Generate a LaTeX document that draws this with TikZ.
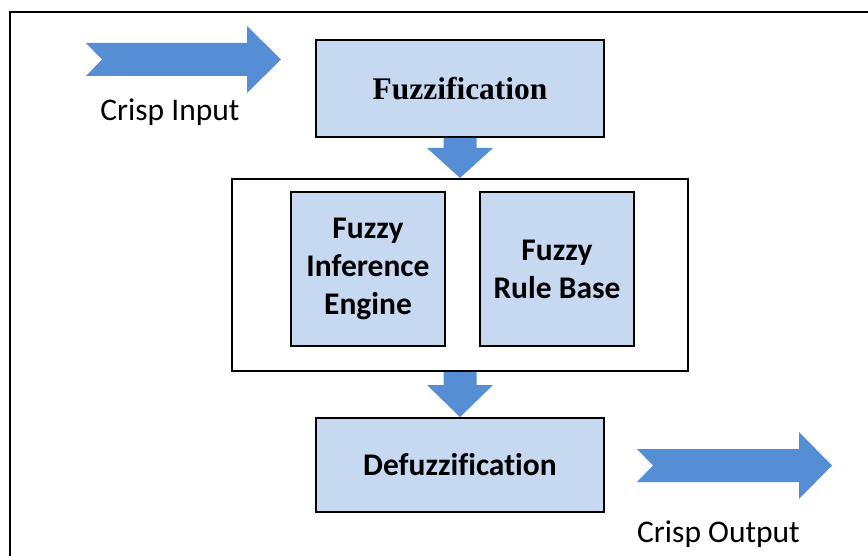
\documentclass[tikz,border=0pt]{standalone}
\usepackage{fontspec}
\setmainfont{Carlito}[Ligatures=NoCommon]
\newfontfamily\serifface{Liberation Serif}[Ligatures=NoCommon]
\usepackage{xcolor}
\usetikzlibrary{positioning,calc}

\definecolor{arrowblue}{HTML}{558ED5}
\definecolor{boxblue}{HTML}{C6D9F1}

\tikzset{
  block/.style={draw,line width=2pt,fill=boxblue,inner sep=0pt,align=center,
    font=\fontsize{31.5}{38}\selectfont\bfseries},
  frame/.style={draw,line width=2pt,inner sep=0pt},
  fatarrow/.style={fill=arrowblue},
  sidetext/.style={font=\fontsize{31.5}{38}\selectfont,anchor=base}
}

\begin{document}
\begin{tikzpicture}[x=1pt,y=-1pt,on grid]
   \useasboundingbox (0,0) rectangle (868,556);
   \draw[line width=2.5pt] (10,556) -- (10,12) -- (868,12);

   % the three stages
   \node[block,minimum width=288pt,minimum height=97pt,
         font=\fontsize{31.5}{38}\selectfont\serifface\bfseries] (fuzz) at (460,88.5) {Fuzzification};
   \node[frame,minimum width=456pt,minimum height=192pt] (mid) [below=186.5pt of fuzz] {};
   \node[block,minimum size=154pt] (engine) at (368,269) {Fuzzy\\Inference\\Engine};
   \node[block,minimum size=154pt] (rules)  at (557,269) {Fuzzy\\Rule Base};
   \node[block,minimum width=288pt,minimum height=94pt] (defuzz) [below=190pt of mid] {Defuzzification};

   % down arrows
   \fill[fatarrow] ($(fuzz.south)+(-16.5,0)$) -- ++(0,10) -- ++(-16.5,0) -- (mid.north)
      -- ($(fuzz.south)+(33,10)$) -- ++(-16.5,0) -- ($(fuzz.south)+(16.5,0)$) -- cycle;
   \fill[fatarrow] ($(mid.south)+(-16.5,0)$) -- ++(0,13) -- ++(-16.5,0) -- (defuzz.north)
      -- ($(mid.south)+(33,13)$) -- ++(-16.5,0) -- ($(mid.south)+(16.5,0)$) -- cycle;

   % input and output
   \coordinate (intip) at (281,59.5);
   \coordinate (outtip) at (832,465.5);
   \fill[fatarrow] (86,43) -- (247,43) -- (247,26) -- (intip) -- (247,93) -- (247,76)
      -- (86,76) -- (102,59.5) -- cycle;
   \fill[fatarrow] (637,449) -- (799,449) -- (799,432) -- (outtip) -- (799,499) -- (799,482)
      -- (637,482) -- (653,465.5) -- cycle;
   \node[sidetext] (intext)  at (170,121)   {Crisp Input};
   \node[sidetext] (outtext) at (718.5,542) {Crisp Output};
\end{tikzpicture}
\end{document}
